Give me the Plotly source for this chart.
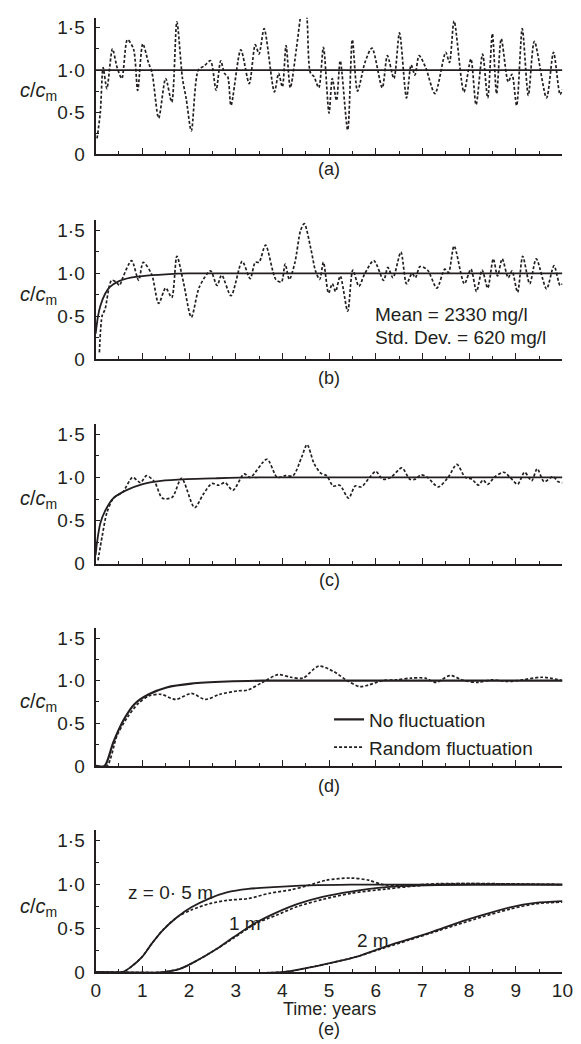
import plotly.graph_objects as go

# ---- data ----
# (a) surface: constant input vs random input
t_a_flat = [0, 10]
c_a_flat = [1.0, 1.0]
t_a = [0.03, 0.1, 0.16, 0.24, 0.36, 0.46, 0.56, 0.68, 0.81, 0.90, 1.01, 1.13, 1.21, 1.35, 1.50,
       1.63, 1.74, 1.86, 1.94, 2.05, 2.20, 2.33, 2.46, 2.58, 2.68, 2.76, 2.83, 2.90, 3.11, 3.29,
       3.42, 3.50, 3.61, 3.83, 3.92, 4.0, 4.08, 4.17, 4.30, 4.38, 4.46, 4.53, 4.60, 4.68, 4.78,
       4.88, 5.0, 5.07, 5.16, 5.24, 5.40, 5.50, 5.61, 5.77, 5.92, 6.14, 6.25, 6.39, 6.51, 6.66,
       6.76, 6.84, 6.93, 7.07, 7.27, 7.50, 7.58, 7.68, 7.89, 8.04, 8.15, 8.29, 8.40, 8.50, 8.59,
       8.69, 8.84, 8.92, 9.02, 9.14, 9.27, 9.40, 9.66, 9.81, 9.95, 10.0]
c_a = [0.19, 0.5, 1.03, 0.78, 1.25, 1.03, 0.9, 1.36, 1.25, 0.76, 1.31, 1.09, 0.96, 0.43, 0.9,
       0.62, 1.57, 0.9, 0.66, 0.28, 1.0, 1.05, 1.11, 0.76, 1.11, 0.96, 0.92, 0.58, 1.24, 0.84,
       1.30, 1.19, 1.49, 0.74, 0.96, 0.80, 1.29, 0.79, 1.25, 1.6, 1.9, 1.6, 0.97, 0.92, 0.79,
       1.27, 0.49, 0.9, 0.64, 1.11, 0.29, 1.36, 0.75, 1.09, 1.26, 0.79, 1.17, 0.9, 1.44, 0.67,
       1.06, 0.94, 1.17, 1.03, 0.72, 1.21, 1.09, 1.58, 0.74, 1.13, 0.59, 1.19, 0.67, 1.43, 0.72,
       1.37, 0.86, 0.95, 0.58, 1.49, 0.70, 1.34, 0.67, 1.21, 0.71, 0.77]

# (b)
t_b_smooth = [0, 0.05, 0.1, 0.2, 0.3, 0.5, 0.75, 1.0, 1.5, 2.0, 3.0, 10]
c_b_smooth = [0.3, 0.5, 0.62, 0.76, 0.84, 0.91, 0.95, 0.97, 0.99, 1.0, 1.0, 1.0]
t_b = [0.08, 0.14, 0.2, 0.34, 0.44, 0.51, 0.58, 0.77, 0.92, 1.02, 1.2, 1.35, 1.50, 1.63, 1.74,
       1.88, 2.05, 2.22, 2.46, 2.6, 2.7, 2.90, 3.14, 3.31, 3.42, 3.5, 3.64, 3.86, 3.98, 4.06,
       4.15, 4.27, 4.39, 4.47, 4.61, 4.71, 4.80, 4.88, 4.99, 5.07, 5.14, 5.24, 5.40, 5.51, 5.64,
       5.76, 5.96, 6.17, 6.26, 6.37, 6.54, 6.66, 6.78, 6.85, 6.95, 7.11, 7.31, 7.48, 7.56, 7.68,
       7.90, 8.04, 8.16, 8.28, 8.40, 8.52, 8.61, 8.71, 8.84, 8.92, 9.04, 9.15, 9.30, 9.44, 9.66,
       9.82, 9.95, 10.0]
c_b = [0.08, 0.51, 0.58, 0.92, 0.9, 0.86, 0.95, 1.15, 0.92, 1.13, 0.99, 0.65, 0.83, 0.72, 1.2,
       0.9, 0.49, 0.84, 1.03, 0.86, 0.98, 0.74, 1.14, 0.94, 1.13, 1.13, 1.33, 0.93, 0.9, 1.11,
       0.93, 1.13, 1.5, 1.58, 1.29, 1.03, 0.93, 1.13, 0.77, 0.88, 0.79, 0.97, 0.56, 1.04, 0.85,
       0.99, 1.15, 0.92, 1.07, 0.95, 1.25, 0.88, 1.0, 0.95, 1.08, 1.04, 0.83, 1.05, 1.01, 1.32,
       0.88, 1.05, 0.79, 1.04, 0.83, 1.17, 0.97, 1.17, 0.95, 1.03, 0.78, 1.2, 0.88, 1.17, 0.82,
       1.09, 0.86, 0.88]

# (c)
t_c_smooth = [0, 0.03, 0.1, 0.2, 0.38, 0.65, 0.99, 1.4, 1.95, 2.56, 3.5, 10]
c_c_smooth = [0.1, 0.25, 0.47, 0.61, 0.76, 0.85, 0.92, 0.96, 0.98, 0.99, 1.0, 1.0]
t_c = [0.05, 0.14, 0.24, 0.38, 0.58, 0.79, 0.96, 1.09, 1.26, 1.43, 1.64, 1.84, 2.12, 2.30, 2.49,
       2.63, 2.77, 2.94, 3.18, 3.31, 3.67, 3.89, 4.06, 4.23, 4.41, 4.53, 4.68, 4.82, 4.95, 5.09,
       5.23, 5.42, 5.56, 5.69, 5.87, 6.00, 6.15, 6.32, 6.56, 6.73, 6.85, 6.97, 7.11, 7.34, 7.55,
       7.74, 7.92, 8.06, 8.20, 8.30, 8.40, 8.54, 8.74, 8.88, 9.04, 9.19, 9.34, 9.46, 9.61, 9.80,
       9.91, 10.0]
c_c = [0.04, 0.32, 0.59, 0.76, 0.83, 1.0, 0.94, 1.02, 0.95, 0.76, 0.77, 0.99, 0.65, 0.8, 0.93,
       0.91, 0.94, 0.85, 1.04, 1.0, 1.21, 1.0, 1.02, 1.02, 1.23, 1.38, 1.16, 1.05, 1.02, 0.9,
       0.91, 0.76, 0.9, 0.89, 1.0, 1.07, 0.98, 1.0, 1.11, 0.98, 0.98, 1.03, 1.0, 0.89, 1.0,
       1.15, 1.0, 0.98, 0.91, 0.97, 0.92, 1.0, 1.06, 1.0, 0.92, 1.06, 0.96, 1.1, 0.95, 1.01,
       0.95, 0.94]

# (d)
t_d_smooth = [0, 0.19, 0.38, 0.61, 0.84, 1.14, 1.52, 2.05, 2.81, 3.57, 10]
c_d_smooth = [0, 0, 0.28, 0.55, 0.73, 0.84, 0.92, 0.965, 0.99, 1.0, 1.0]
t_d = [0, 0.24, 0.46, 0.68, 0.91, 1.14, 1.40, 1.71, 2.05, 2.35, 2.66, 3.04, 3.26, 3.57, 3.91,
       4.18, 4.44, 4.78, 5.09, 5.39, 5.66, 5.85, 6.15, 6.45, 6.76, 7.06, 7.29, 7.59, 7.9, 8.2,
       8.5, 8.81, 9.04, 9.57, 10.0]
c_d = [0, 0, 0.36, 0.57, 0.73, 0.82, 0.84, 0.78, 0.85, 0.78, 0.84, 0.88, 0.89, 0.98, 1.07,
       1.04, 1.03, 1.17, 1.11, 1.0, 0.93, 0.95, 1.0, 1.01, 1.03, 1.03, 0.98, 1.06, 1.0, 0.98,
       1.01, 0.99, 1.0, 1.04, 1.0]

# (e) three depths
t_e05 = [0, 0.57, 0.76, 0.99, 1.21, 1.44, 1.75, 2.05, 2.43, 2.81, 3.27, 3.80, 4.56, 5.47, 10]
c_e05 = [0, 0, 0.06, 0.17, 0.33, 0.48, 0.63, 0.74, 0.84, 0.91, 0.95, 0.97, 0.99, 1.0, 1.0]
t_e05r = [0, 0.57, 0.76, 0.99, 1.21, 1.44, 1.75, 2.05, 2.43, 2.81, 3.27, 3.72, 4.18, 4.56,
          4.94, 5.47, 5.85, 6.15, 6.6, 7.35, 8.12, 10]
c_e05r = [0, 0, 0.06, 0.17, 0.33, 0.48, 0.63, 0.71, 0.78, 0.82, 0.84, 0.9, 0.94, 0.99,
          1.05, 1.075, 1.05, 1.0, 0.99, 1.01, 1.01, 1.0]
t_e1 = [0, 1.44, 1.82, 2.2, 2.58, 2.96, 3.42, 3.87, 4.33, 4.86, 5.47, 6.23, 6.99, 8.12, 10]
c_e1 = [0, 0, 0.04, 0.14, 0.26, 0.4, 0.56, 0.68, 0.78, 0.86, 0.92, 0.97, 0.99, 1.0, 1.0]
t_e1r = [0, 1.44, 1.82, 2.2, 2.58, 2.96, 3.42, 3.87, 4.33, 4.86, 5.47, 6.23, 6.99, 7.74, 10]
c_e1r = [0, 0, 0.04, 0.14, 0.26, 0.39, 0.55, 0.65, 0.75, 0.83, 0.9, 0.95, 0.99, 1.01, 1.0]
t_e2 = [0, 4.0, 4.56, 5.09, 5.62, 6.15, 6.68, 7.21, 7.74, 8.28, 8.88, 9.42, 10]
c_e2 = [0, 0, 0.05, 0.11, 0.18, 0.28, 0.37, 0.46, 0.56, 0.65, 0.74, 0.79, 0.81]
t_e2r = [0, 4.0, 4.56, 5.09, 5.62, 6.15, 6.68, 7.21, 7.74, 8.28, 8.88, 9.42, 10]
c_e2r = [0, 0, 0.05, 0.11, 0.18, 0.27, 0.36, 0.45, 0.54, 0.63, 0.72, 0.78, 0.80]

y_tickvals = [0, 0.5, 1.0, 1.5]
y_ticktext = ["0", "0·5", "1·0", "1·5"]
x_tickvals = list(range(11))
panel_labels = ["(a)", "(b)", "(c)", "(d)", "(e)"]

INK = "#231f20"
FONT = "Liberation Sans, Arial, sans-serif"
W, H = 581, 1044
X0, X1 = 85, 565

# pixel positions of y=0 and the top of each panel (y range 0..1.62)
panel_px = [(148, 9.8), (355, 214.5), (561.7, 420.3), (766, 626.4), (974.3, 831.1)]
label_px = [163, 374, 578, 786, 1032]

fig = go.Figure()

solid = dict(color=INK, width=1.8)
dotted = dict(color=INK, width=1.7, dash="3px,2px")


def add(x, y, row, line, name=None, legend=False):
    fig.add_trace(go.Scatter(x=x, y=y, mode="lines", line=dict(shape="spline", smoothing=0.8, **line),
                             xaxis="x" if row == 1 else "x%d" % row,
                             yaxis="y" if row == 1 else "y%d" % row,
                             name=name, showlegend=legend))


add(t_a_flat, c_a_flat, 1, solid)
add(t_a, c_a, 1, dotted)
add(t_b_smooth, c_b_smooth, 2, solid)
add(t_b, c_b, 2, dotted)
add(t_c_smooth, c_c_smooth, 3, solid)
add(t_c, c_c, 3, dotted)
add(t_d_smooth, c_d_smooth, 4, dict(color=INK, width=2.2), "No fluctuation", True)
add(t_d, c_d, 4, dotted, "Random fluctuation", True)
add(t_e05, c_e05, 5, solid)
add(t_e05r, c_e05r, 5, dotted)
add(t_e1, c_e1, 5, solid)
add(t_e1r, c_e1r, 5, dotted)
add(t_e2, c_e2, 5, solid)
add(t_e2r, c_e2r, 5, dotted)

TXT = dict(family=FONT, size=19, color=INK)
SMALL = dict(family=FONT, size=18, color=INK)
x_mid = (X0 + X1) / 2 / W

layout = {}
annotations = []
for i in range(5):
    k = "" if i == 0 else str(i + 1)
    y0, ytop = panel_px[i]
    layout["xaxis" + k] = dict(
        domain=[X0 / W, X1 / W], range=[0, 10.001], anchor="y" + k,
        showline=True, linewidth=2.2, linecolor=INK, showgrid=False, zeroline=False,
        tickvals=x_tickvals, ticks="inside", ticklen=6, tickwidth=1, tickcolor=INK,
        minor=dict(dtick=0.5, tick0=0, ticks="inside", ticklen=3, tickwidth=1, tickcolor=INK),
        showticklabels=(i == 4), tickfont=dict(family=FONT, size=19, color=INK),
        ticklabeloverflow="allow",
    )
    layout["yaxis" + k] = dict(
        domain=[1 - y0 / H, 1 - ytop / H], range=[0, 1.62], anchor="x" + k,
        showline=True, linewidth=2.2, linecolor=INK, showgrid=False, zeroline=False,
        tickvals=y_tickvals, ticktext=y_ticktext, ticks="inside", ticklen=4, tickwidth=1,
        tickcolor=INK,
        minor=dict(dtick=0.25, tick0=0, ticks="inside", ticklen=3, tickwidth=1, tickcolor=INK),
        tickfont=dict(family=FONT, size=19, color=INK), ticklabelstandoff=5,
    )
    annotations.append(dict(
        text="<i>c</i>/<i>c</i><sub>m</sub>", x=47 / W, xref="paper", xanchor="right",
        y=0.74, yref="y" + k, yanchor="middle", showarrow=False,
        font=dict(family=FONT, size=20, color=INK)))
    annotations.append(dict(
        text=panel_labels[i], x=x_mid, xref="paper", y=1 - label_px[i] / H, yref="paper",
        yanchor="middle", showarrow=False, font=SMALL))

annotations += [
    dict(text="Time: years", x=x_mid, xref="paper", y=1 - 1012 / H, yref="paper",
         yanchor="middle", showarrow=False, font=SMALL),
    dict(text="Mean = 2330 mg/l", x=5.95, xref="x2", xanchor="left", y=0.52, yref="y2",
         yanchor="middle", showarrow=False, font=TXT),
    dict(text="Std. Dev. = 620 mg/l", x=5.95, xref="x2", xanchor="left", y=0.25, yref="y2",
         yanchor="middle", showarrow=False, font=TXT),
    dict(text="z = 0· 5 m", x=0.65, xref="x5", xanchor="left", y=0.91, yref="y5",
         yanchor="middle", showarrow=False, font=TXT),
    dict(text="1 m", x=3.2, xref="x5", y=0.55, yref="y5", yanchor="middle",
         showarrow=False, font=TXT),
    dict(text="2 m", x=5.95, xref="x5", y=0.36, yref="y5", yanchor="middle",
         showarrow=False, font=TXT),
]

fig.update_layout(
    width=W, height=H, margin=dict(l=0, r=0, t=0, b=0),
    paper_bgcolor="white", plot_bgcolor="white",
    font=dict(family=FONT, color=INK),
    legend=dict(x=325 / W, y=1 - 700 / H, xanchor="left", yanchor="top",
                bgcolor="rgba(0,0,0,0)", font=TXT, tracegroupgap=0, itemwidth=30),
    annotations=annotations,
    **layout,
)

fig.write_html("out.html")
